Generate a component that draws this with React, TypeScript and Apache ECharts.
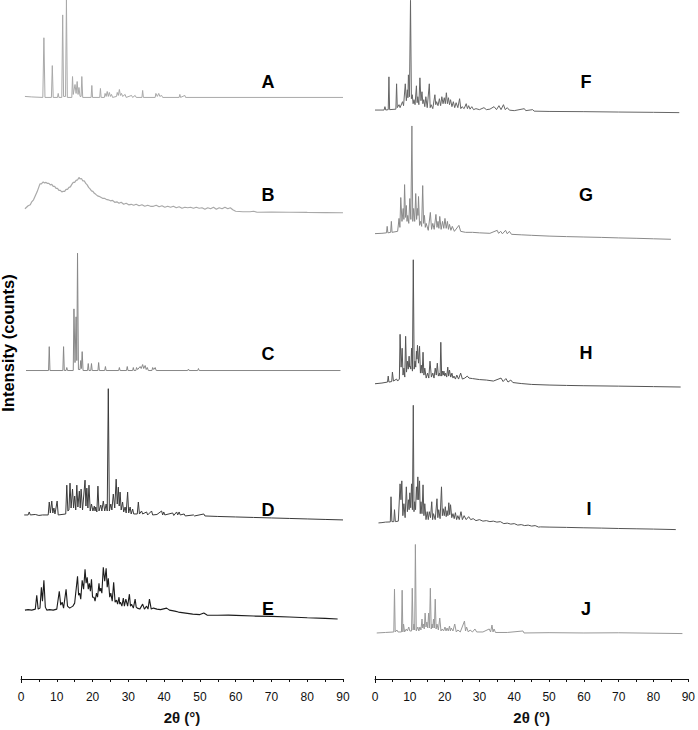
import React, { useEffect, useRef } from "react";
import * as echarts from "echarts";

// ---------- data (2θ in degrees, intensity relative to each pattern's baseline) ----------
const xTicks = [0, 10, 20, 30, 40, 50, 60, 70, 80, 90];
const patternNames = ["A", "B", "C", "D", "E", "F", "G", "H", "I", "J"];

const patA: number[][] = [
  [1.1, 1], [3, 0.5], [6.1, 0], [6.4, 60], [6.7, 0], [8.5, 0], [8.75, 32], [9.0, 0], [10.2, 0], [10.4, 4], [10.6, 0],
  [11.4, 0], [11.65, 83], [11.9, 1], [12.45, 1], [12.7, 98], [12.95, 0], [14.2, 0], [14.4, 21], [14.6, 3], [15.1, 13],
  [15.4, 4], [15.7, 16], [15.95, 3], [16.2, 10], [16.5, 1], [16.8, 1], [17.0, 21], [17.25, 0], [19.6, 0], [19.8, 12],
  [20.0, 0], [22.0, 0], [22.2, 9], [22.4, 0], [23.3, 0], [23.5, 4], [23.8, 1], [24.1, 6], [24.4, 1], [24.7, 5], [25.0, 1],
  [25.3, 3], [25.6, 0], [26.7, 1], [26.9, 5], [27.2, 2], [27.5, 8], [27.8, 2], [28.1, 4], [28.4, 1], [29.1, 3], [29.4, 0],
  [30.9, 2], [31.2, 0], [31.9, 2], [32.2, 0], [33.8, 0], [34.0, 7], [34.2, 0], [37.5, 0], [37.7, 4], [38.1, 1], [38.5, 4],
  [38.8, 1], [39.3, 2], [39.6, 0], [44.2, 0], [44.4, 3], [44.6, 0], [45.8, 2], [46.0, 0], [90, 0],
];

const patB: number[][] = [
  [1.1, 4], [2, 7], [2.6, 8], [3, 11], [3.5, 13], [4, 17], [4.5, 21], [5, 26], [5.3, 29], [5.7, 29], [6.2, 31],
  [6.6, 30], [7, 30.5], [7.4, 29.5], [7.8, 29.5], [8.2, 28], [8.6, 28.5], [9, 26.5], [9.4, 26.5], [9.8, 24.5],
  [10.2, 24.5], [10.6, 22.5], [11, 22.5], [11.4, 21], [11.8, 21.5], [12.2, 21.5], [12.6, 23.5], [13, 23.5], [13.4, 25.5],
  [13.8, 26], [14.2, 28.5], [14.6, 30.5], [15, 30.5], [15.4, 32.5], [15.8, 33], [16.2, 35.5], [16.5, 34], [16.9, 34.5],
  [17.3, 32], [17.7, 32], [18.1, 29.5], [18.5, 28], [18.9, 25.5], [19.3, 24], [19.7, 22], [20.1, 21.5], [20.5, 19.5],
  [20.9, 18.5], [21.4, 17], [21.8, 16.5], [22.3, 15.5], [22.8, 14.5], [23.3, 14.5], [23.8, 13.5], [24.4, 13], [25, 12],
  [25.6, 12.5], [26.2, 10.5], [26.8, 11], [27.4, 9.5], [28, 10.5], [28.7, 8.5], [29.4, 9.5], [30.1, 8], [30.8, 8.5],
  [31.5, 7.5], [32.2, 8.5], [33, 7], [33.8, 8], [34.6, 6.5], [35.4, 7.5], [36.2, 6.5], [37, 6.5], [37.8, 7.5], [38.6, 6],
  [39.4, 7], [40.2, 5.5], [41, 6.5], [41.8, 5.5], [42.6, 6.5], [43.4, 5], [44.2, 6], [45, 4.5], [45.8, 5.5], [46.6, 5],
  [47.4, 5.5], [48.2, 4.5], [49, 5.5], [49.8, 4.5], [50.6, 5], [51.4, 3.5], [52.2, 5], [53, 4], [53.8, 5.5], [54.6, 3.5],
  [55.4, 5], [56.2, 4], [57, 5.5], [57.8, 4], [58.5, 5], [59.2, 3], [60, 1.5], [62, 1], [64, 1], [65, 1.5], [66, 0.5],
  [70, 0.7], [75, 0.5], [80, 0.3], [85, 0.2], [90, 0],
];

const patC: number[][] = [
  [1.4, 0], [7.7, 0], [7.9, 24], [8.1, 0], [11.7, 0], [11.9, 24], [12.1, 0], [12.6, 0], [12.8, 3], [13.0, 0], [14.6, 0],
  [14.8, 62], [15.1, 8], [15.4, 54], [15.6, 10], [15.8, 118], [16.05, 1], [16.5, 1], [16.7, 10], [16.9, 2], [17.1, 19],
  [17.35, 0], [18.6, 0], [18.8, 7], [19.0, 0], [19.5, 0], [19.7, 7], [19.9, 0], [21.5, 0], [21.7, 8], [21.9, 0],
  [23.4, 0], [23.6, 4], [23.8, 0], [27.3, 0], [27.5, 3], [27.7, 0], [29.5, 0], [29.7, 4], [29.9, 0], [31.2, 0],
  [31.4, 3], [31.6, 0], [32.1, 0], [32.3, 3], [32.6, 1], [33.3, 4], [33.6, 2], [34.0, 6], [34.3, 2], [34.7, 5], [35.0, 1],
  [35.3, 3], [35.6, 0], [36.6, 0], [36.8, 3], [37.1, 1], [37.5, 3], [37.8, 0], [46.6, 0], [46.8, 1.5], [47, 0],
  [49.4, 0], [49.6, 2], [49.8, 0], [89.3, 0],
];

const patD: number[][] = [
  [0.9, 5], [2.0, 5], [2.3, 8], [2.6, 5], [4, 5.5], [5, 4.5], [6, 5], [7.6, 5], [7.9, 18], [8.2, 7], [8.6, 19], [8.9, 7],
  [9.2, 12], [9.5, 6], [10.1, 19], [10.4, 5], [12.5, 6], [12.8, 35], [13.1, 9], [13.4, 10], [13.7, 37], [14.0, 12],
  [14.4, 31], [14.7, 12], [15.0, 24], [15.3, 10], [15.6, 35], [15.9, 13], [16.3, 29], [16.55, 12], [16.8, 31], [17.2, 10],
  [17.9, 40], [18.15, 14], [18.4, 32], [18.7, 12], [19.0, 35], [19.35, 9], [19.7, 16], [20.1, 9], [20.5, 14], [20.7, 9],
  [20.9, 13], [21.2, 8], [21.5, 34], [21.8, 9], [22.3, 15], [22.6, 9], [23.0, 19], [23.4, 9], [23.8, 16], [24.1, 9],
  [24.4, 132], [24.7, 9], [25.1, 16], [25.4, 10], [25.8, 26], [26.2, 12], [26.6, 41], [26.9, 16], [27.2, 33], [27.45, 14],
  [27.7, 28], [28.0, 10], [28.4, 18], [28.7, 8], [29.1, 13], [29.4, 7], [29.8, 28], [30.1, 7], [30.5, 13], [30.8, 6],
  [31.2, 11], [31.5, 6], [32.5, 6], [32.8, 18], [33.1, 6], [33.7, 9], [34.0, 6], [35.1, 8], [35.4, 5], [36.5, 9],
  [36.8, 5], [38, 5.5], [39.3, 9], [39.6, 5], [39.9, 8], [40.2, 5], [42.4, 7], [42.7, 4.5], [43.5, 8], [43.8, 5],
  [44.2, 8], [44.5, 5], [45.6, 6], [45.9, 4], [48.2, 5], [48.5, 4], [51.1, 6], [51.4, 4], [55, 3.5], [60, 3], [65, 2.5],
  [70, 2], [75, 1.5], [80, 1], [85, 0.5], [90, 0],
];

const patE: number[][] = [
  [1.1, 9], [2, 9.5], [3, 9], [4, 10], [4.4, 24], [4.8, 10], [5.3, 11], [5.7, 32], [6.0, 18], [6.4, 39], [6.8, 12],
  [7.2, 9], [8, 9.5], [9, 9], [10, 10], [10.7, 28], [11.1, 14], [11.5, 17], [11.9, 11], [12.6, 30], [13.0, 13],
  [13.6, 11], [14.5, 13], [15.0, 16], [15.8, 43], [16.1, 24], [16.4, 26], [16.7, 20], [17.1, 39], [17.5, 30], [17.9, 50],
  [18.2, 36], [18.5, 42], [18.8, 30], [19.1, 36], [19.4, 28], [19.7, 40], [20.0, 22], [20.4, 22], [20.7, 18], [21.1, 26],
  [21.4, 22], [21.8, 36], [22.0, 28], [22.3, 31], [22.6, 26], [23.0, 52], [23.4, 38], [23.8, 51], [24.1, 32], [24.4, 41],
  [24.8, 22], [25.1, 26], [25.5, 18], [25.9, 37], [26.3, 17], [26.7, 19], [27.0, 15], [27.4, 22], [27.6, 15], [27.8, 17],
  [28.2, 13], [28.6, 21], [28.9, 13], [29.3, 20], [29.8, 13], [30.3, 25], [30.6, 13], [30.9, 15], [31.4, 11], [31.9, 20],
  [32.2, 12], [32.5, 11], [33.2, 10], [34.0, 15], [34.5, 10], [35.1, 13], [35.5, 10], [35.9, 20], [36.4, 10], [37.0, 11],
  [38, 10], [39, 9.5], [40.7, 11], [41.5, 9], [43, 8], [44, 7], [46, 6], [48, 5], [50, 4.5], [51.1, 6], [52, 4],
  [55, 3.8], [58, 4], [60, 3.7], [65, 3], [70, 2.7], [75, 2], [80, 1.3], [85, 0.7], [88.5, 0],
];

const patF: number[][] = [
  [0, 2.6], [2.6, 2.6], [2.85, 6], [3.1, 2.6], [3.8, 3], [4.0, 36], [4.2, 3], [6.0, 3.5], [6.2, 29], [6.4, 5], [6.9, 8],
  [7.2, 5], [7.9, 11], [8.2, 7], [8.7, 29], [9.0, 12], [9.3, 23], [9.45, 15], [9.6, 38], [9.9, 16], [10.2, 113],
  [10.45, 14], [10.7, 18], [10.95, 9], [11.2, 13], [11.5, 8], [11.9, 27], [12.1, 10], [12.3, 16], [12.6, 8], [12.9, 35],
  [13.2, 12], [13.5, 21], [13.75, 9], [14.0, 13], [14.3, 6], [14.6, 16], [15.0, 5], [15.6, 29], [15.85, 5], [16.1, 8],
  [16.6, 4], [17.2, 18], [17.45, 8], [17.7, 11], [18.1, 7], [18.5, 14], [18.85, 7], [19.2, 16], [19.55, 9], [19.9, 15],
  [20.2, 9], [20.5, 20], [20.8, 9], [21.1, 15], [21.4, 8], [21.7, 13], [22.1, 6], [22.5, 11], [22.9, 5], [23.3, 10],
  [23.8, 5], [24.3, 14], [24.65, 4], [25.0, 6], [25.6, 4], [26.2, 9], [26.55, 4], [26.9, 7], [27.3, 3.5], [27.8, 6],
  [28.3, 3], [29, 4], [30, 3], [31.3, 5], [32, 3], [33, 3.5], [34.2, 6], [34.9, 3], [35.6, 7], [36.2, 3], [36.9, 8],
  [37.4, 3], [38, 5], [38.6, 2.5], [40, 2], [42.9, 4], [43.3, 2], [45.3, 3], [45.7, 1.5], [50, 1.2], [60, 1], [70, 0.6],
  [80, 0.3], [87.4, 0],
];

const patG: number[][] = [
  [0, 5.7], [2, 6], [3.3, 6.5], [3.5, 13], [3.7, 6.5], [4.5, 7], [4.7, 18], [4.9, 7], [6.5, 8], [6.9, 21], [7.15, 12],
  [7.4, 42], [7.75, 18], [8.1, 31], [8.3, 20], [8.5, 55], [8.75, 22], [9.0, 34], [9.2, 18], [9.4, 24], [9.7, 16],
  [10.0, 41], [10.3, 20], [10.6, 114], [10.85, 18], [11.1, 31], [11.4, 18], [11.7, 46], [11.95, 20], [12.2, 31],
  [12.35, 24], [12.5, 43], [12.8, 14], [13.1, 18], [13.4, 13], [13.7, 54], [13.95, 16], [14.2, 24], [14.45, 12],
  [14.7, 16], [15.3, 9], [15.9, 27], [16.25, 10], [16.6, 16], [17.0, 10], [17.5, 25], [17.8, 12], [18.1, 18], [18.35, 11],
  [18.6, 23], [19.0, 10], [19.4, 18], [19.75, 11], [20.1, 21], [20.45, 11], [20.8, 18], [21.1, 10], [21.4, 15], [21.8, 9],
  [22.2, 13], [22.8, 8], [24.1, 14], [24.6, 8], [26, 7], [28, 7], [30, 6.5], [33, 6], [35.1, 9], [35.5, 6], [36.1, 8],
  [36.6, 5.5], [37.5, 9], [38, 5.5], [38.6, 8], [39.2, 5], [42, 4.5], [45, 4], [50, 3.2], [55, 2.7], [60, 2.3],
  [65, 1.9], [70, 1.4], [75, 1], [80, 0.5], [85, 0],
];

const patH: number[][] = [
  [0, 3.3], [2, 4], [3.6, 5], [3.8, 11], [4.0, 5], [4.8, 5.5], [5.0, 15], [5.3, 6], [6.2, 8], [6.5, 6], [7.0, 8],
  [7.2, 53], [7.5, 20], [7.8, 39], [8.05, 12], [8.3, 19], [8.55, 10], [8.8, 51], [9.05, 15], [9.3, 26], [9.55, 18],
  [9.8, 31], [9.95, 20], [10.1, 21], [10.3, 18], [10.5, 39], [10.75, 16], [11.0, 128], [11.25, 18], [11.5, 26],
  [11.7, 20], [11.9, 36], [12.05, 28], [12.2, 42], [12.5, 24], [12.8, 41], [13.05, 14], [13.3, 22], [13.55, 14],
  [13.8, 35], [14.05, 12], [14.3, 19], [14.7, 9], [15.1, 14], [15.45, 9], [15.8, 26], [16.2, 10], [16.6, 14], [16.95, 9],
  [17.3, 19], [17.6, 12], [17.9, 24], [18.2, 11], [18.5, 14], [18.7, 11], [18.9, 45], [19.15, 11], [19.4, 16], [19.6, 12],
  [19.8, 16], [20.05, 11], [20.3, 14], [20.6, 10], [20.9, 20], [21.15, 11], [21.4, 17], [21.75, 10], [22.1, 14],
  [22.4, 9], [22.7, 11], [23.1, 8], [23.5, 12], [24.0, 8], [24.6, 14], [25.1, 8], [25.8, 9], [26.5, 11], [27, 9],
  [28, 8.5], [29, 8], [30, 7.5], [32, 7], [34, 6], [36.2, 9], [36.8, 5.5], [37.6, 8.5], [38.2, 5], [39, 7], [39.6, 4.5],
  [42, 3.5], [45, 2.6], [50, 2], [55, 1.6], [60, 1.3], [70, 0.9], [80, 0.4], [87.8, 0],
];

const patI: number[][] = [
  [1, 6.7], [2, 7], [3, 7.5], [4.4, 7.7], [4.6, 33], [4.85, 8], [5.4, 8], [5.6, 20], [5.85, 8], [6.7, 8.5], [7.2, 46],
  [7.45, 30], [7.7, 49], [8.0, 14], [8.3, 26], [8.65, 12], [9.0, 43], [9.3, 18], [9.6, 30], [9.8, 20], [10.0, 37],
  [10.25, 22], [10.5, 46], [10.75, 20], [11.0, 125], [11.2, 18], [11.4, 28], [11.65, 20], [11.9, 43], [12.1, 30],
  [12.3, 53], [12.55, 30], [12.8, 49], [13.0, 16], [13.2, 28], [13.5, 16], [13.8, 45], [14.05, 14], [14.3, 26],
  [14.65, 10], [15.0, 18], [15.3, 10], [15.6, 18], [15.95, 12], [16.3, 28], [16.55, 10], [16.8, 16], [17.3, 10],
  [17.8, 31], [18.05, 12], [18.3, 20], [18.7, 11], [19.1, 43], [19.35, 14], [19.6, 21], [19.9, 14], [20.2, 23],
  [20.45, 13], [20.7, 19], [20.95, 14], [21.2, 27], [21.45, 15], [21.7, 25], [22.05, 12], [22.4, 16], [22.75, 11],
  [23.1, 17], [23.45, 10], [23.8, 14], [24.2, 10], [24.7, 18], [25.1, 10], [25.6, 14], [26.2, 10], [26.9, 13], [27.5, 10],
  [28.2, 11], [29, 9], [30, 10], [31, 8.5], [32, 9], [33, 8], [34, 8.5], [35, 7.5], [36, 8], [37, 6], [38, 6.5], [39, 5.5],
  [40, 6], [41, 4.5], [42, 5], [43, 4], [44, 4.5], [45, 3.5], [46, 4], [47, 2.5], [47.5, 2.7], [50, 2.5], [55, 2.2],
  [60, 1.8], [65, 1.5], [70, 1.1], [75, 0.8], [80, 0.5], [86.4, 0],
];

const patJ: number[][] = [
  [0.5, 0], [3, 0.5], [5.4, 1], [5.6, 44], [5.8, 1], [6.3, 3], [6.6, 1], [7.6, 1], [7.8, 43], [8.0, 1], [8.2, 9],
  [8.5, 1], [9.0, 4], [9.3, 2], [9.7, 6], [10.0, 2], [10.5, 2], [10.7, 45], [10.95, 3], [11.2, 9], [11.4, 3], [11.6, 89],
  [11.85, 2], [12.3, 6], [12.6, 2], [12.9, 6], [13.2, 3], [13.5, 14], [13.7, 5], [13.9, 9], [14.15, 4], [14.4, 20],
  [14.65, 6], [14.9, 11], [15.15, 5], [15.4, 20], [15.65, 5], [15.9, 45], [16.15, 4], [16.4, 9], [16.6, 5], [16.8, 14],
  [17.05, 5], [17.3, 34], [17.55, 4], [17.8, 9], [18.2, 3], [18.6, 15], [18.95, 2], [19.3, 4], [19.7, 2], [20.1, 6],
  [20.4, 2], [20.7, 5], [21.05, 2], [21.4, 7], [21.65, 2], [21.9, 5], [22.4, 2], [22.9, 9], [23.35, 1], [23.8, 3],
  [24.5, 1], [25.7, 12], [26.0, 2], [26.3, 6], [26.8, 1], [27.3, 3], [28, 1], [28.7, 4], [29.2, 1], [31, 1], [32.8, 4],
  [33.2, 1], [33.6, 8], [33.9, 1], [34.2, 4], [34.6, 0.5], [38, 0.5], [42.5, 2], [42.8, 0], [50, 0.3], [60, 0],
  [70, 0.2], [88.3, -0.6],
];

const patterns = [patA, patB, patC, patD, patE, patF, patG, patH, patI, patJ];

// ---------- layout / style ----------
const W = 698;
const H = 730;
const AXIS_Y = 683; // pixel row of the x axes
const panels = [
  { left: 21, width: 322 },
  { left: 375, width: 316 },
];
const patternPanel = [0, 0, 0, 0, 0, 1, 1, 1, 1, 1];
// vertical stacking offset of each pattern's baseline (in px above the axis)
const stackOffset = [585, 469, 310.3, 160, 60.3, 569.7, 442.3, 293.7, 150.3, 46.3];
const lineColors = ["#a9a9a9", "#a9a9a9", "#888888", "#3a3a3a", "#1c1c1c", "#666666", "#8a8a8a", "#555555", "#555555", "#999999"];
const lineWidths = [1, 1.2, 1, 1, 1.1, 1, 1, 1, 1, 1];
const labelPos = [
  [268, 82], [268, 195], [268, 354], [268, 510], [268, 609],
  [586, 82], [586, 195], [586, 353], [589, 509], [586, 609],
];

export default function App() {
  const ref = useRef<HTMLDivElement>(null);
  useEffect(() => {
    if (!ref.current) return;
    const chart = echarts.init(ref.current, undefined, { renderer: "svg", width: W, height: H });
    const font = "'Liberation Sans', Arial, sans-serif";

    const grids = panels.map((p) => ({
      left: p.left,
      width: p.width,
      top: 0,
      height: AXIS_Y,
    }));

    const xAxes = panels.map((_, i) => ({
      type: "value",
      gridIndex: i,
      min: 0,
      max: 90,
      interval: 10,
      name: "2θ (°)",
      nameLocation: "middle",
      nameGap: 31,
      nameTextStyle: { fontFamily: font, fontSize: 15, fontWeight: "bold", color: "#111" },
      axisLine: { show: true, onZero: false, lineStyle: { color: "#111", width: 1 } },
      axisTick: { show: true, length: 3, lineStyle: { color: "#111" } },
      minorTick: { show: true, splitNumber: 2, length: 3, lineStyle: { color: "#111" } },
      axisLabel: {
        fontFamily: font,
        fontSize: 12,
        color: "#111",
        margin: 12,
        formatter: (v: number) => (xTicks.includes(v) ? String(v) : ""),
      },
      splitLine: { show: false },
    }));

    const yAxes = panels.map((_, i) => ({
      type: "value",
      gridIndex: i,
      min: 0,
      max: AXIS_Y,
      show: false,
    }));

    const series = patterns.map((pat, k) => ({
      type: "line",
      name: patternNames[k],
      xAxisIndex: patternPanel[k],
      yAxisIndex: patternPanel[k],
      data: pat.map(([x, y]) => [x, y + stackOffset[k]]),
      showSymbol: false,
      symbol: "none",
      clip: false,
      silent: true,
      lineStyle: { color: lineColors[k], width: lineWidths[k] },
    }));

    const graphics: any[] = [];
    patternNames.forEach((n, k) => {
      graphics.push({
        type: "text",
        x: labelPos[k][0],
        y: labelPos[k][1],
        style: {
          text: n,
          fontFamily: font,
          fontSize: 18,
          fontWeight: "bold",
          fill: "#000",
          textAlign: "center",
          textVerticalAlign: "middle",
        },
      });
    });
    panels.forEach((p) => {
      graphics.push({
        type: "line",
        shape: { x1: p.left + 0.5, y1: AXIS_Y - 7, x2: p.left + 0.5, y2: AXIS_Y },
        style: { stroke: "#111", lineWidth: 1 },
      });
    });
    graphics.push({
      type: "text",
      x: 8,
      y: 343,
      rotation: Math.PI / 2,
      style: {
        text: "Intensity (counts)",
        fontFamily: font,
        fontSize: 16.5,
        fontWeight: "bold",
        fill: "#000",
        textAlign: "center",
        textVerticalAlign: "middle",
      },
    });

    chart.setOption({
      animation: false,
      backgroundColor: "#fff",
      grid: grids,
      xAxis: xAxes,
      yAxis: yAxes,
      series,
      graphic: graphics,
    });
    return () => chart.dispose();
  }, []);

  return <div ref={ref} style={{ width: W, height: H, position: "absolute", left: 0, top: 0 }} />;
}
